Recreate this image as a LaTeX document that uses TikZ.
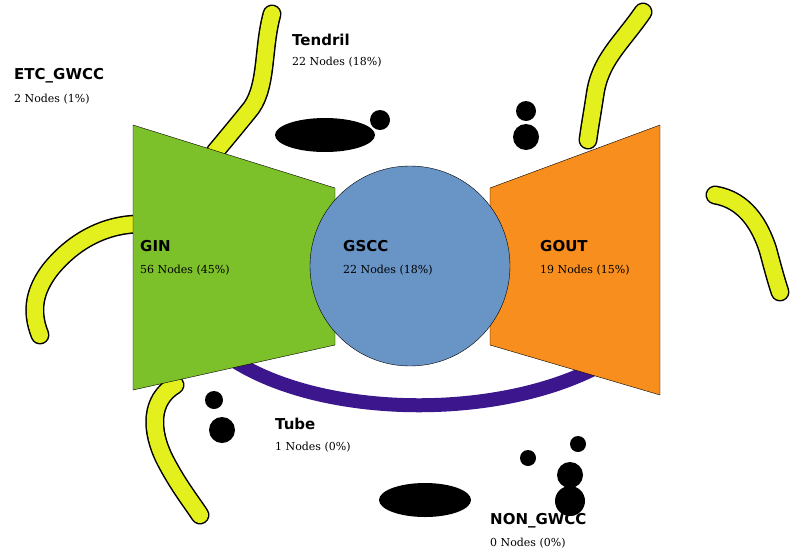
\documentclass[tikz,border=0pt]{standalone}
\usepackage{fontspec}
\setmainfont{DejaVu Serif}
\newfontfamily\labelfont{DejaVu Sans}
\definecolor{ginGreen}{HTML}{7DC12A}
\definecolor{goutOrange}{HTML}{F78E1E}
\definecolor{gsccBlue}{HTML}{6895C6}
\definecolor{tubePurple}{HTML}{3B168C}
\definecolor{tendrilYellow}{HTML}{E3F01E}
\newcommand{\partName}[1]{{\labelfont\bfseries\fontsize{15}{17}\selectfont #1}}
\newcommand{\partCount}[1]{{\fontsize{11}{13}\selectfont #1}}
\begin{document}
\begin{tikzpicture}[x=1pt,y=-1pt,
  tendril/.style={line width=19, draw=black, line cap=round,
    postaction={draw=tendrilYellow, line width=16, line cap=round}},
  blob/.style={fill=black},
  part/.style={anchor=west, inner sep=0pt, align=left}]
\useasboundingbox (0,0) rectangle (800,552);
% tendrils
\draw[tendril] (272,14) .. controls (262,50) and (268,90) .. (248,112) .. controls (235,128) and (225,140) .. (215,152);
\draw[tendril] (138,224) .. controls (100,225) and (70,245) .. (50,270) .. controls (35,290) and (30,310) .. (40,335);
\draw[tendril] (175,385) .. controls (150,400) and (150,430) .. (165,460) .. controls (178,485) and (190,500) .. (200,515);
\draw[tendril] (643,12) .. controls (620,45) and (600,60) .. (595,95) .. controls (592,115) and (590,125) .. (588,140);
\draw[tendril] (715,195) .. controls (745,200) and (760,225) .. (768,250) .. controls (772,265) and (776,280) .. (780,292);
% tube
\draw[tubePurple, line width=14] (236,362) .. controls (330,420) and (510,420) .. (610,360);
% bow tie
\draw[fill=ginGreen] (133,125) -- (335,188) -- (335,345) -- (133,390) -- cycle;
\draw[fill=goutOrange] (490,188) -- (660,125) -- (660,395) -- (490,345) -- cycle;
\node[circle, draw, fill=gsccBlue, minimum size=200] (gscc) at (410,266) {};
% blobs
\fill[blob] (325,135) ellipse (50 and 17);
\fill[blob] (380,120) circle (10);
\fill[blob] (526,111) circle (10);
\fill[blob] (526,137) circle (13);
\fill[blob] (214,400) circle (9);
\fill[blob] (222,430) circle (13);
\fill[blob] (425,500) ellipse (46 and 17);
\fill[blob] (578,444) circle (8);
\fill[blob] (528,458) circle (8);
\fill[blob] (570,475) circle (13);
\fill[blob] (570,501) circle (15);
% labels
\node[part] (tendril) at (292,40) {\partName{Tendril}};
\node[part] (tendrilN) at (292,62) {\partCount{22 Nodes (18\%)}};
\node[part] (etc) at (14,76) {\partName{ETC\_GWCC}};
\node[part] (etcN) at (14,99) {\partCount{2 Nodes (1\%)}};
\node[part] (gin) at (140,246) {\partName{GIN}};
\node[part] (ginN) at (140,270) {\partCount{56 Nodes (45\%)}};
\node[part] (gsccL) at (343,246) {\partName{GSCC}};
\node[part] (gsccN) at (343,270) {\partCount{22 Nodes (18\%)}};
\node[part] (gout) at (540,246) {\partName{GOUT}};
\node[part] (goutN) at (540,270) {\partCount{19 Nodes (15\%)}};
\node[part] (tube) at (275,424) {\partName{Tube}};
\node[part] (tubeN) at (275,447) {\partCount{1 Nodes (0\%)}};
\node[part] (non) at (490,521) {\partName{NON\_GWCC}};
\node[part] (nonN) at (490,543) {\partCount{0 Nodes (0\%)}};
\end{tikzpicture}
\end{document}
